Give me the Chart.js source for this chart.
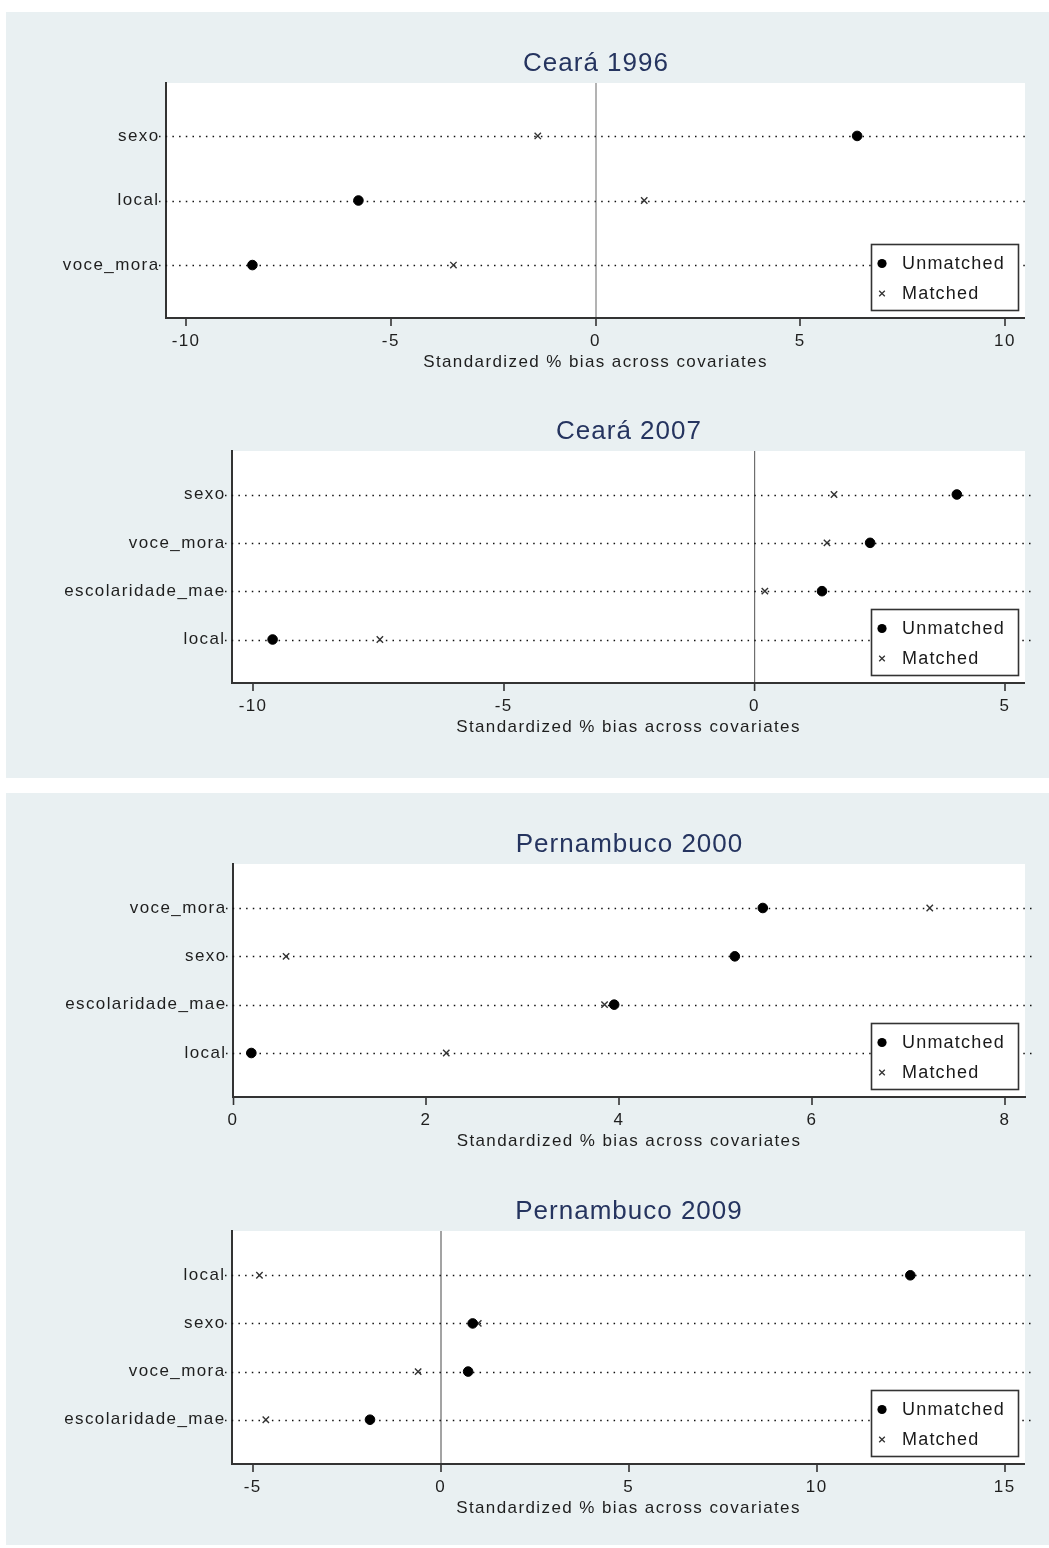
<!DOCTYPE html>
<html>
<head>
<meta charset="utf-8">
<script src="https://cdn.jsdelivr.net/npm/chart.js@4.4.1/dist/chart.umd.min.js"></script>
<style>
  html, body { margin: 0; padding: 0; background: #ffffff; }
  body { width: 1049px; height: 1548px; position: relative; overflow: hidden; }
  .panel { position: absolute; left: 6px; width: 1043px; background: #e9f0f2; }
  canvas { position: absolute; left: 0; }
</style>
</head>
<body>
<div class="panel" style="top:12px;height:766px"></div>
<div class="panel" style="top:793px;height:752px"></div>
<canvas id="c1"></canvas>
<canvas id="c2"></canvas>
<canvas id="c3"></canvas>
<canvas id="c4"></canvas>
<script>
// ---- data -------------------------------------------------------------
const axisTitle = 'Standardized % bias across covariates';
const seriesNames = ['Unmatched', 'Matched'];

const ce1996Title = 'Ceará 1996';
const ce1996Vars = ['sexo', 'local', 'voce_mora'];
const ce1996Unmatched = [6.39, -5.79, -8.38];
const ce1996Matched = [-1.41, 1.19, -3.47];
const ce1996Ticks = [-10, -5, 0, 5, 10];

const ce2007Title = 'Ceará 2007';
const ce2007Vars = ['sexo', 'voce_mora', 'escolaridade_mae', 'local'];
const ce2007Unmatched = [4.04, 2.31, 1.35, -9.61];
const ce2007Matched = [1.59, 1.45, 0.21, -7.47];
const ce2007Ticks = [-10, -5, 0, 5];

const pe2000Title = 'Pernambuco 2000';
const pe2000Vars = ['voce_mora', 'sexo', 'escolaridade_mae', 'local'];
const pe2000Unmatched = [5.49, 5.20, 3.95, 0.19];
const pe2000Matched = [7.22, 0.55, 3.85, 2.21];
const pe2000Ticks = [0, 2, 4, 6, 8];

const pe2009Title = 'Pernambuco 2009';
const pe2009Vars = ['local', 'sexo', 'voce_mora', 'escolaridade_mae'];
const pe2009Unmatched = [12.49, 0.85, 0.73, -1.88];
const pe2009Matched = [-4.82, 1.00, -0.60, -4.65];
const pe2009Ticks = [-5, 0, 5, 10, 15];

// ---- layout of each graph on the page ---------------------------------
const FONT = "'Liberation Sans', Arial, Helvetica, sans-serif";
const TEXT = '#1e1e1e';
const AXIS = '#333333';
const TITLE_COLOR = '#25345f';
const TOP_ROOM = 50;     // space above the plot area for the title
const AXIS_ROOM = 62;    // height of the x axis block (ticks, labels, title)
const SPACING = '1.4px'; // tracking used for axis and legend text

const graphs = [
  { id: 'c1', title: ce1996Title, vars: ce1996Vars, unmatched: ce1996Unmatched, matched: ce1996Matched, ticks: ce1996Ticks,
    left: 166, right: 1025, top: 83, bottom: 318, xMin: -10.49, xMax: 10.49, yMargin: 0.82,
    zeroColor: '#b3b3b3', zeroWidth: 2, lineExt: 0 },
  { id: 'c2', title: ce2007Title, vars: ce2007Vars, unmatched: ce2007Unmatched, matched: ce2007Matched, ticks: ce2007Ticks,
    left: 232, right: 1025, top: 451, bottom: 683, xMin: -10.42, xMax: 5.40, yMargin: 0.9,
    zeroColor: '#6e6e6e', zeroWidth: 1.2, lineExt: 10 },
  { id: 'c3', title: pe2000Title, vars: pe2000Vars, unmatched: pe2000Unmatched, matched: pe2000Matched, ticks: pe2000Ticks,
    left: 233, right: 1025, top: 864, bottom: 1097, xMin: 0, xMax: 8.207, yMargin: 0.91,
    zeroColor: 'rgba(0,0,0,0)', zeroWidth: 1, lineExt: 10 },
  { id: 'c4', title: pe2009Title, vars: pe2009Vars, unmatched: pe2009Unmatched, matched: pe2009Matched, ticks: pe2009Ticks,
    left: 232, right: 1025, top: 1231, bottom: 1464, xMin: -5.55, xMax: 15.54, yMargin: 0.92,
    zeroColor: '#a3a3a3', zeroWidth: 2, lineExt: 10 }
];

// ---- plugin: white plot region, dotted row lines, legend box, title ----
const stataLook = {
  id: 'stataLook',
  beforeDraw(chart) {
    const ctx = chart.ctx;
    const a = chart.chartArea;
    ctx.letterSpacing = SPACING;
    ctx.save();
    ctx.fillStyle = '#ffffff';
    ctx.fillRect(a.left, a.top, a.right - a.left, a.bottom - a.top);
    ctx.restore();
  },
  beforeDatasetsDraw(chart, args, opts) {
    const ctx = chart.ctx;
    const a = chart.chartArea;
    const ys = chart.scales.y;
    ctx.save();
    ctx.strokeStyle = '#111111';
    ctx.lineWidth = 1.5;
    ctx.setLineDash([1.5, 5.2]);
    ys.ticks.forEach(t => {
      const y = Math.round(ys.getPixelForValue(t.value)) + 0.5;
      ctx.beginPath();
      ctx.moveTo(a.left - 7, y);
      ctx.lineTo(a.right + (opts.lineExt || 0), y);
      ctx.stroke();
    });
    ctx.restore();
  },
  afterDatasetsDraw(chart) {
    const ctx = chart.ctx;
    const a = chart.chartArea;
    const w = 148, h = 67;
    const x0 = a.right - 6 - w;
    const y0 = a.bottom - 7 - h;
    ctx.save();
    ctx.fillStyle = '#ffffff';
    ctx.fillRect(x0, y0, w, h);
    ctx.strokeStyle = '#333333';
    ctx.lineWidth = 1.6;
    ctx.strokeRect(x0 + 0.5, y0 + 0.5, w - 1, h - 1);
    chart.data.datasets.forEach((ds, i) => {
      const cy = y0 + 19.5 + i * 30;
      const cx = x0 + 11;
      if (ds.pointStyle === 'circle') {
        ctx.fillStyle = '#000000';
        ctx.beginPath();
        ctx.arc(cx, cy, 4.6, 0, Math.PI * 2);
        ctx.fill();
      } else {
        const r = 2.8;
        ctx.strokeStyle = '#333333';
        ctx.lineWidth = 1.3;
        ctx.beginPath();
        ctx.moveTo(cx - r, cy - r); ctx.lineTo(cx + r, cy + r);
        ctx.moveTo(cx - r, cy + r); ctx.lineTo(cx + r, cy - r);
        ctx.stroke();
      }
      ctx.letterSpacing = '1.2px';
      ctx.font = '18px ' + FONT;
      ctx.fillStyle = '#1a1a1a';
      ctx.textAlign = 'left';
      ctx.textBaseline = 'middle';
      ctx.fillText(ds.label, x0 + 31, cy + 1);
    });
    ctx.restore();
  },
  afterDraw(chart, args, opts) {
    const ctx = chart.ctx;
    const a = chart.chartArea;
    ctx.save();
    ctx.letterSpacing = '1px';
    ctx.font = '26px ' + FONT;
    ctx.fillStyle = TITLE_COLOR;
    ctx.textAlign = 'center';
    ctx.textBaseline = 'middle';
    ctx.fillText(opts.title || '', (a.left + a.right) / 2 + 0.5, a.top - 19);
    ctx.restore();
  }
};

function buildGraph(g) {
  const canvas = document.getElementById(g.id);
  const canvasTop = g.top - TOP_ROOM;
  const height = (g.bottom - g.top) + TOP_ROOM + AXIS_ROOM;
  canvas.width = 1049;
  canvas.height = height;
  canvas.style.top = canvasTop + 'px';
  canvas.style.width = '1049px';
  canvas.style.height = height + 'px';

  const rows = g.vars.map((v, i) => i);

  new Chart(canvas, {
    type: 'scatter',
    data: {
      datasets: [
        {
          label: seriesNames[0],
          data: g.unmatched.map((v, i) => ({ x: v, y: rows[i] })),
          pointStyle: 'circle',
          pointRadius: 4.8,
          backgroundColor: '#000000',
          borderColor: '#000000',
          borderWidth: 1
        },
        {
          label: seriesNames[1],
          data: g.matched.map((v, i) => ({ x: v, y: rows[i] })),
          pointStyle: 'crossRot',
          pointRadius: 4.5,
          backgroundColor: '#333333',
          borderColor: '#333333',
          borderWidth: 1.4
        }
      ]
    },
    options: {
      responsive: false,
      animation: false,
      events: [],
      devicePixelRatio: 1,
      layout: {
        autoPadding: false,
        padding: { left: 0, right: 1049 - g.right, top: TOP_ROOM, bottom: 0 }
      },
      plugins: {
        legend: { display: false },
        title: { display: false },
        tooltip: { enabled: false },
        stataLook: { title: g.title, lineExt: g.lineExt }
      },
      scales: {
        x: {
          type: 'linear',
          position: 'bottom',
          min: g.xMin,
          max: g.xMax,
          bounds: 'data',
          afterBuildTicks: s => { s.ticks = g.ticks.map(v => ({ value: v })); },
          afterFit: s => { s.height = AXIS_ROOM; },
          ticks: {
            autoSkip: false,
            maxRotation: 0,
            padding: 5.5,
            color: TEXT,
            font: { family: FONT, size: 17 },
            callback: v => String(v)
          },
          grid: {
            display: true,
            drawOnChartArea: true,
            drawTicks: true,
            tickLength: 8,
            tickColor: AXIS,
            tickWidth: 1.6,
            color: c => (c.tick && c.tick.value === 0) ? g.zeroColor : 'rgba(0,0,0,0)',
            lineWidth: c => (c.tick && c.tick.value === 0) ? g.zeroWidth : 0
          },
          border: { display: true, color: AXIS, width: 2 },
          title: {
            display: true,
            text: axisTitle,
            color: TEXT,
            font: { family: FONT, size: 17 },
            padding: { top: 0, bottom: 7.8 }
          }
        },
        y: {
          type: 'linear',
          position: 'left',
          reverse: true,
          min: -g.yMargin,
          max: g.vars.length - 1 + g.yMargin,
          bounds: 'data',
          afterBuildTicks: s => { s.ticks = rows.map(v => ({ value: v })); },
          afterFit: s => { s.width = g.left; },
          ticks: {
            autoSkip: false,
            padding: 6.5,
            color: TEXT,
            font: { family: FONT, size: 17 },
            callback: v => g.vars[v]
          },
          grid: { display: false, drawTicks: false },
          border: { display: true, color: AXIS, width: 2 }
        }
      }
    },
    plugins: [stataLook]
  });
}

graphs.forEach(buildGraph);
</script>
</body>
</html>
